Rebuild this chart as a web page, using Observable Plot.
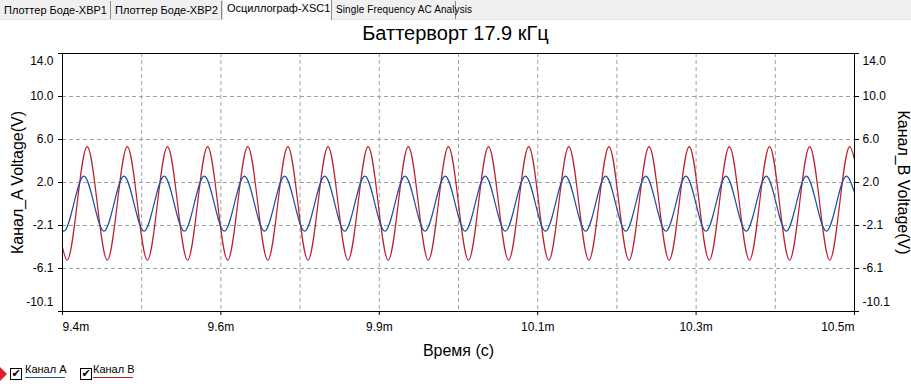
<!DOCTYPE html>
<html><head><meta charset="utf-8">
<script src="https://cdn.jsdelivr.net/npm/d3@7"></script>
<script src="https://cdn.jsdelivr.net/npm/@observablehq/plot@0.6"></script>
<style>
body{margin:0;width:911px;height:389px;overflow:hidden;background:#fff;font-family:"Liberation Sans",Arial,sans-serif;position:relative}
.tabs{position:absolute;left:0;top:0;width:911px;height:19px;background:#f0f0f0;border-bottom:1px solid #e3e3e3}
.tab{position:absolute;top:1px;height:18px;font-size:11px;line-height:18px;color:#000;padding-left:4px;box-sizing:border-box;border-right:1px solid #8a8a8a;background:#f0f0f0;white-space:nowrap}
.tab.sel{top:0;height:20px;background:#fbfbfb;line-height:17px;border-left:1px solid #d8d8d8}
#title{position:absolute;left:0;width:911px;top:21px;text-align:center;font-size:20px;line-height:24px;color:#000}
#chart{position:absolute;left:0;top:44px}
.leg{position:absolute;font-size:11px;line-height:12px;color:#000;white-space:nowrap}
.cb{position:absolute;width:10px;height:10px;border:1px solid #000;background:#fff;font-size:11px;line-height:10px;text-align:center;font-family:"DejaVu Sans",sans-serif;font-weight:bold}
.ul{position:absolute;height:1px}
</style></head>
<body>
<div class="tabs">
  <div class="tab" style="left:0;width:111px">Плоттер Боде-XBP1</div>
  <div class="tab" style="left:111px;width:111px">Плоттер Боде-XBP2</div>
  <div class="tab sel" style="left:222px;width:110px">Осциллограф-XSC1</div>
  <div class="tab" style="left:332px;width:124px;font-size:10px;letter-spacing:0.1px">Single Frequency AC Analysis</div>
</div>
<div id="title">Баттерворт 17.9 кГц</div>
<div id="chart"></div>
<svg style="position:absolute;left:0;top:367px" width="8" height="16"><path d="M0,0 L7,7 L0,14 Z" fill="#e0202a"/></svg>
<div class="cb" style="left:10px;top:368px">✔</div>
<div class="leg" style="left:25px;top:363px">Канал A</div>
<div class="ul" style="left:25px;top:377px;width:40px;background:#1f4fa0"></div>
<div class="cb" style="left:80px;top:368px">✔</div>
<div class="leg" style="left:93px;top:363px">Канал B</div>
<div class="ul" style="left:93px;top:377px;width:40px;background:#c0202a"></div>
<script>
// Channel B (red) extrema times (ms) and voltages
const tB = [9.400, 9.4064, 9.4343, 9.4622, 9.4900, 9.5179, 9.5458, 9.5737, 9.6015, 9.6294, 9.6573,
  9.6851, 9.7130, 9.7409, 9.7688, 9.7966, 9.8245, 9.8524, 9.8803, 9.9081, 9.9360,
  9.9639, 9.9917, 10.0196, 10.0475, 10.0754, 10.1032, 10.1311, 10.1590, 10.1868, 10.2147,
  10.2426, 10.2705, 10.2983, 10.3262, 10.3541, 10.3820, 10.4098, 10.4377, 10.4656, 10.4934, 10.500];
const vB = [-4.1, -5.3, 5.3, -5.3, 5.3, -5.3, 5.3, -5.3, 5.3, -5.3, 5.3,
  -5.3, 5.3, -5.3, 5.3, -5.3, 5.3, -5.3, 5.3, -5.3, 5.3,
  -5.3, 5.3, -5.3, 5.3, -5.3, 5.3, -5.3, 5.3, -5.3, 5.3,
  -5.3, 5.3, -5.3, 5.3, -5.3, 5.3, -5.3, 5.3, -5.3, 5.3, 4.1];
// Channel A (blue) extrema times (ms) and voltages
const tA = [9.400, 9.4018, 9.4297, 9.4576, 9.4854, 9.5133, 9.5412, 9.5691, 9.5969, 9.6248, 9.6527,
  9.6805, 9.7084, 9.7363, 9.7642, 9.7920, 9.8199, 9.8478, 9.8757, 9.9035, 9.9314,
  9.9593, 9.9871, 10.0150, 10.0429, 10.0708, 10.0986, 10.1265, 10.1544, 10.1822, 10.2101,
  10.2380, 10.2659, 10.2937, 10.3216, 10.3495, 10.3774, 10.4052, 10.4331, 10.4610, 10.4888, 10.500];
const vA = [-2.55, -2.6, 2.55, -2.6, 2.55, -2.6, 2.55, -2.6, 2.55, -2.6, 2.55,
  -2.6, 2.55, -2.6, 2.55, -2.6, 2.55, -2.6, 2.55, -2.6, 2.55,
  -2.6, 2.55, -2.6, 2.55, -2.6, 2.55, -2.6, 2.55, -2.6, 2.55,
  -2.6, 2.55, -2.6, 2.55, -2.6, 2.55, -2.6, 2.55, -2.6, 2.55, 1.0];

const yLabels = ["14.0", "10.0", "6.0", "2.0", "-2.1", "-6.1", "-10.1"];
const xLabels = ["9.4m", "9.6m", "9.9m", "10.1m", "10.3m", "10.5m"];
const xDomain = [9.4, 10.5];
const yDomain = [-10.1, 14.0];

const yTicks = yLabels.map((_, i) => yDomain[1] - i * (yDomain[1] - yDomain[0]) / (yLabels.length - 1));
const nGrid = (xLabels.length - 1) * 2;
const xGrid = d3.range(nGrid + 1).map(i => xDomain[0] + i * (xDomain[1] - xDomain[0]) / nGrid);
const xMajor = xGrid.filter((_, i) => i % 2 === 0);
const xL = xMajor.map((v, i) => ({v, label: xLabels[i]}));
const yL = yTicks.map((v, i) => ({v, label: yLabels[i]}));

const dataA = tA.map((t, i) => ({t, v: vA[i]}));
const dataB = tB.map((t, i) => ({t, v: vB[i]}));

const grid = {stroke: "#a0a0a0", strokeOpacity: 1, strokeDasharray: "4,3", strokeWidth: 1};
const fs = 12;
const T = {fill: "#000", lineAnchor: "middle"};

const chart = Plot.plot({
  width: 911, height: 316,
  marginLeft: 62, marginRight: 57, marginTop: 9, marginBottom: 49,
  style: {fontFamily: "'Liberation Sans', Arial, sans-serif", background: "transparent", overflow: "visible"},
  x: {domain: xDomain},
  y: {domain: yDomain},
  marks: [
    Plot.gridX(xGrid.slice(1, -1), grid),
    Plot.gridY(yTicks.slice(1, -1), grid),
    Plot.line(dataB, {x: "t", y: "v", stroke: "#be1e2d", strokeWidth: 1.2, curve: "monotone-x"}),
    Plot.line(dataA, {x: "t", y: "v", stroke: "#1f4fa0", strokeWidth: 1.2, curve: "monotone-x"}),
    Plot.frame({stroke: "#000", strokeWidth: 1}),
    Plot.axisY({ticks: yTicks, anchor: "left", tickSize: 4, tickFormat: () => "", label: null, stroke: "#000"}),
    Plot.axisY({ticks: yTicks, anchor: "right", tickSize: 4, tickFormat: () => "", label: null, stroke: "#000"}),
    Plot.axisX({ticks: xMajor, anchor: "bottom", tickSize: 4, tickFormat: () => "", label: null, stroke: "#000"}),
    // y tick labels left
    Plot.text(yL.slice(1, -1), {...T, y: "v", text: "label", frameAnchor: "left", dx: -9, textAnchor: "end", fontSize: fs}),
    Plot.text(yL.slice(0, 1), {...T, y: "v", text: "label", frameAnchor: "left", dx: -9, dy: 8, textAnchor: "end", fontSize: fs}),
    Plot.text(yL.slice(-1), {...T, y: "v", text: "label", frameAnchor: "left", dx: -9, dy: -9, textAnchor: "end", fontSize: fs}),
    // y tick labels right
    Plot.text(yL.slice(1, -1), {...T, y: "v", text: "label", frameAnchor: "right", dx: 8, textAnchor: "start", fontSize: fs}),
    Plot.text(yL.slice(0, 1), {...T, y: "v", text: "label", frameAnchor: "right", dx: 8, dy: 8, textAnchor: "start", fontSize: fs}),
    Plot.text(yL.slice(-1), {...T, y: "v", text: "label", frameAnchor: "right", dx: 8, dy: -9, textAnchor: "start", fontSize: fs}),
    // x tick labels
    Plot.text(xL.slice(0, 1), {...T, x: "v", text: "label", frameAnchor: "bottom", dy: 16, textAnchor: "start", fontSize: fs}),
    Plot.text(xL.slice(1, -1), {...T, x: "v", text: "label", frameAnchor: "bottom", dy: 16, textAnchor: "middle", fontSize: fs}),
    Plot.text(xL.slice(-1), {...T, x: "v", text: "label", frameAnchor: "bottom", dy: 16, textAnchor: "end", fontSize: fs}),
    // axis titles
    Plot.text(["Время (с)"], {...T, text: d => d, frameAnchor: "bottom", dy: 39, textAnchor: "middle", fontSize: 16}),
    Plot.text(["Канал_A Voltage(V)"], {...T, text: d => d, frameAnchor: "left", dx: -45, rotate: -90, textAnchor: "middle", fontSize: 16}),
    Plot.text(["Канал_B Voltage(V)"], {...T, text: d => d, frameAnchor: "right", dx: 49, rotate: 90, textAnchor: "middle", fontSize: 16})
  ]
});
document.getElementById("chart").appendChild(chart);
</script>
</body></html>
